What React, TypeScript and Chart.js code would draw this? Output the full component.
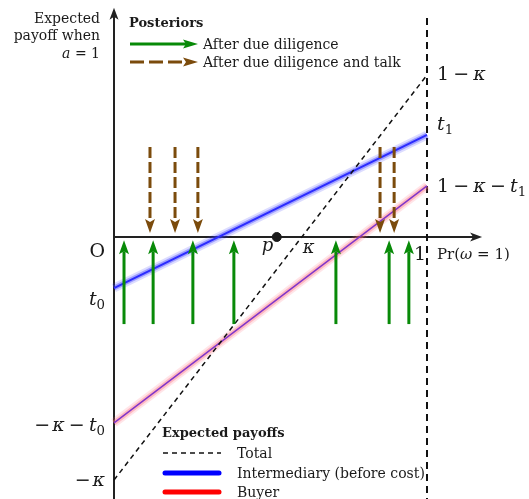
import { useEffect, useRef } from "react";
import { Chart, registerables } from "chart.js";

Chart.register(...registerables);

// Horizontal axis: belief Pr(ω = 1); vertical axis: expected payoff when a = 1.
const kappa = 0.6;
const prior = 0.52;
const beliefEnds = [0, 1];
const totalPayoff = [-kappa, 1 - kappa];
const intermediaryPayoff = [-0.126, 0.252]; // t0 at belief 0, t1 at belief 1
const buyerPayoff = [-0.459, 0.126]; // -κ - t0 at belief 0, 1 - κ - t1 at belief 1

// Posterior beliefs and the span of the arrows that mark them
const dueDiligencePosteriors = [0.032, 0.125, 0.252, 0.383, 0.709, 0.879, 0.942];
const talkPosteriors = [0.115, 0.195, 0.268, 0.85, 0.895];
const dueDiligenceArrowSpan = [-0.215, -0.008];
const talkArrowSpan = [0.222, 0.01];

// Axis extents
const xAxisEnd = 1.176;
const yAxisTop = 0.566;
const certaintyLineTop = 0.541;
const X_MIN = -0.36422;
const X_MAX = 1.32588;
const Y_MIN = -0.64691;
const Y_MAX = 0.58519;

const GREEN = "#088a08";
const BROWN = "#7b4b0c";
const INK = "#1a1a1a";
const SERIF = '"DejaVu Serif"';

type Run = { s: string; f?: "r" | "i" | "b"; sub?: boolean; gap?: number };

function drawRuns(
  ctx: CanvasRenderingContext2D,
  runs: Run[],
  x: number,
  y: number,
  size: number,
  align: "left" | "right" = "left"
) {
  const fontFor = (r: Run) => {
    const sz = r.sub ? size * 0.7 : size;
    const style = r.f === "i" ? "italic " : r.f === "b" ? "bold " : "";
    return `${style}${sz}px ${SERIF}`;
  };
  let w = 0;
  for (const r of runs) {
    ctx.font = fontFor(r);
    w += ctx.measureText(r.s).width + (r.gap ?? 0) * size;
  }
  let cx = align === "right" ? x - w : x;
  ctx.textAlign = "left";
  ctx.textBaseline = "alphabetic";
  ctx.fillStyle = INK;
  for (const r of runs) {
    ctx.font = fontFor(r);
    ctx.fillText(r.s, cx, r.sub ? y + size * 0.22 : y);
    cx += ctx.measureText(r.s).width + (r.gap ?? 0) * size;
  }
}

function arrowHead(
  ctx: CanvasRenderingContext2D,
  tx: number,
  ty: number,
  dx: number,
  dy: number,
  len: number,
  width: number,
  notch: number
) {
  const n = Math.hypot(dx, dy);
  const ux = dx / n;
  const uy = dy / n;
  const bx = tx - ux * len;
  const by = ty - uy * len;
  const px = -uy;
  const py = ux;
  ctx.beginPath();
  ctx.moveTo(tx, ty);
  ctx.lineTo(bx + (px * width) / 2, by + (py * width) / 2);
  ctx.lineTo(bx + ux * notch, by + uy * notch);
  ctx.lineTo(bx - (px * width) / 2, by - (py * width) / 2);
  ctx.closePath();
  ctx.fill();
}

function arrow(
  ctx: CanvasRenderingContext2D,
  x0: number,
  y0: number,
  x1: number,
  y1: number,
  color: string,
  lineWidth: number,
  dash: number[],
  headLen: number,
  headWidth: number
) {
  const n = Math.hypot(x1 - x0, y1 - y0);
  const ux = (x1 - x0) / n;
  const uy = (y1 - y0) / n;
  ctx.save();
  ctx.strokeStyle = color;
  ctx.fillStyle = color;
  ctx.lineWidth = lineWidth;
  ctx.setLineDash(dash);
  ctx.lineCap = "butt";
  ctx.beginPath();
  ctx.moveTo(x0, y0);
  ctx.lineTo(x1 - ux * (headLen - 3), y1 - uy * (headLen - 3));
  ctx.stroke();
  ctx.setLineDash([]);
  arrowHead(ctx, x1, y1, ux, uy, headLen, headWidth, 3);
  ctx.restore();
}

const scenePlugin = {
  id: "scene",
  beforeDatasetsDraw(chart: any) {
    const { ctx } = chart;
    const xs = chart.scales.x;
    const ys = chart.scales.y;
    const ox = xs.getPixelForValue(0);
    const oy = ys.getPixelForValue(0);
    ctx.save();
    ctx.strokeStyle = "#222";
    ctx.fillStyle = "#222";
    ctx.lineWidth = 2;
    // horizontal axis
    const xe = xs.getPixelForValue(xAxisEnd);
    ctx.beginPath();
    ctx.moveTo(ox, oy);
    ctx.lineTo(xe - 8, oy);
    ctx.stroke();
    arrowHead(ctx, xe, oy, 1, 0, 12, 9, 3);
    // vertical axis
    const yt = ys.getPixelForValue(yAxisTop);
    ctx.beginPath();
    ctx.moveTo(ox, ys.getPixelForValue(Y_MIN) + 2);
    ctx.lineTo(ox, yt + 8);
    ctx.stroke();
    arrowHead(ctx, ox, yt, 0, -1, 12, 9, 3);
    ctx.restore();
  },
  afterDatasetsDraw(chart: any) {
    const { ctx } = chart;
    const xs = chart.scales.x;
    const ys = chart.scales.y;
    const X = (v: number) => xs.getPixelForValue(v);
    const Y = (v: number) => ys.getPixelForValue(v);

    // posterior arrows
    for (const p of talkPosteriors) {
      arrow(ctx, X(p), Y(talkArrowSpan[0]), X(p), Y(talkArrowSpan[1]), BROWN, 3, [11, 4], 14, 10);
    }
    for (const p of dueDiligencePosteriors) {
      arrow(ctx, X(p), Y(dueDiligenceArrowSpan[0]), X(p), Y(dueDiligenceArrowSpan[1]), GREEN, 3, [], 14, 10);
    }

    // axis labels
    const ox = X(0);
    const oy = Y(0);
    const x1 = X(1);
    drawRuns(ctx, [{ s: "O" }], ox - 9, oy + 20, 19, "right");
    drawRuns(ctx, [{ s: "t", f: "i" }, { s: "0", sub: true }], ox - 9, Y(intermediaryPayoff[0]) + 17, 19, "right");
    drawRuns(
      ctx,
      [{ s: "−", gap: 0.1 }, { s: "κ", f: "i", gap: 0.22 }, { s: "−", gap: 0.22 }, { s: "t", f: "i" }, { s: "0", sub: true }],
      ox - 9,
      Y(buyerPayoff[0]) + 8,
      19,
      "right"
    );
    drawRuns(ctx, [{ s: "−", gap: 0.1 }, { s: "κ", f: "i" }], ox - 9, Y(totalPayoff[0]) + 6, 19, "right");

    drawRuns(ctx, [{ s: "1", gap: 0.22 }, { s: "−", gap: 0.22 }, { s: "κ", f: "i" }], x1 + 10, Y(totalPayoff[1]) + 5, 19);
    drawRuns(ctx, [{ s: "t", f: "i" }, { s: "1", sub: true }], x1 + 10, Y(intermediaryPayoff[1]) - 5, 19);
    drawRuns(
      ctx,
      [{ s: "1", gap: 0.22 }, { s: "−", gap: 0.22 }, { s: "κ", f: "i", gap: 0.22 }, { s: "−", gap: 0.22 }, { s: "t", f: "i" }, { s: "1", sub: true }],
      x1 + 10,
      Y(buyerPayoff[1]) + 6,
      19
    );

    drawRuns(ctx, [{ s: "p", f: "i" }], X(prior) - 15, oy + 14, 18);
    drawRuns(ctx, [{ s: "κ", f: "i" }], X(kappa) + 1, oy + 16, 18);
    drawRuns(ctx, [{ s: "1" }], x1 - 13, oy + 23, 19);
    drawRuns(ctx, [{ s: "Pr(" }, { s: "ω", f: "i" }, { s: " = 1)" }], x1 + 10, oy + 22, 15);

    // vertical axis title
    drawRuns(ctx, [{ s: "Expected" }], ox - 14, 23, 14, "right");
    drawRuns(ctx, [{ s: "payoff when" }], ox - 14, 40, 14, "right");
    drawRuns(ctx, [{ s: "a", f: "i" }, { s: " = 1" }], ox - 14, 58, 14, "right");

    // posteriors key
    drawRuns(ctx, [{ s: "Posteriors", f: "b" }], 129, 27, 13);
    arrow(ctx, 130, 44, 198, 44, GREEN, 3, [], 15, 9);
    drawRuns(ctx, [{ s: "After due diligence" }], 203, 49, 14);
    arrow(ctx, 130, 62, 198, 62, BROWN, 3, [14, 5], 15, 9);
    drawRuns(ctx, [{ s: "After due diligence and talk" }], 203, 67, 14);

    // payoff key
    drawRuns(ctx, [{ s: "Expected payoffs", f: "b" }], 162, 437, 13);
    ctx.save();
    ctx.lineWidth = 1.5;
    ctx.strokeStyle = "#111";
    ctx.setLineDash([5, 4]);
    ctx.beginPath();
    ctx.moveTo(163, 453);
    ctx.lineTo(221, 453);
    ctx.stroke();
    ctx.setLineDash([]);
    ctx.lineCap = "round";
    ctx.lineWidth = 5;
    ctx.strokeStyle = "#0000ff";
    ctx.beginPath();
    ctx.moveTo(165, 473);
    ctx.lineTo(219, 473);
    ctx.stroke();
    ctx.strokeStyle = "#ff0000";
    ctx.beginPath();
    ctx.moveTo(165, 492);
    ctx.lineTo(219, 492);
    ctx.stroke();
    ctx.restore();
    drawRuns(ctx, [{ s: "Total" }], 237, 458, 14);
    drawRuns(ctx, [{ s: "Intermediary (before cost)" }], 237, 478, 14);
    drawRuns(ctx, [{ s: "Buyer" }], 237, 497, 14);
  },
};

const segment = (ends: number[]) => beliefEnds.map((x, i) => ({ x, y: ends[i] }));

export default function App() {
  const ref = useRef<HTMLCanvasElement | null>(null);

  useEffect(() => {
    if (!ref.current) return;
    const lineBase = { type: "scatter" as const, showLine: true, pointRadius: 0, fill: false, tension: 0 };
    const chart = new Chart(ref.current, {
      type: "scatter",
      data: {
        datasets: [
          {
            ...lineBase,
            data: [
              { x: 1, y: certaintyLineTop },
              { x: 1, y: Y_MIN - 0.05 },
            ],
            borderColor: "#111",
            borderWidth: 2,
            borderDash: [7, 5],
            order: 9,
          },
          { ...lineBase, data: segment(buyerPayoff), borderColor: "rgba(255,110,130,0.18)", borderWidth: 9, order: 8 },
          { ...lineBase, data: segment(buyerPayoff), borderColor: "rgba(255,110,130,0.38)", borderWidth: 5, order: 7 },
          { ...lineBase, data: segment(buyerPayoff), borderColor: "#8035c8", borderWidth: 1.5, order: 6 },
          { ...lineBase, data: segment(intermediaryPayoff), borderColor: "rgba(60,60,255,0.18)", borderWidth: 9, order: 5 },
          { ...lineBase, data: segment(intermediaryPayoff), borderColor: "rgba(60,60,255,0.38)", borderWidth: 5, order: 4 },
          { ...lineBase, data: segment(intermediaryPayoff), borderColor: "#2b2bff", borderWidth: 2, order: 3 },
          { ...lineBase, data: segment(totalPayoff), borderColor: "#111", borderWidth: 1.5, borderDash: [5, 4], order: 2 },
          {
            type: "scatter",
            data: [{ x: prior, y: 0 }],
            pointRadius: 4.5,
            pointBackgroundColor: "#1a1a1a",
            pointBorderColor: "#1a1a1a",
            showLine: false,
            order: 1,
          },
        ],
      },
      options: {
        animation: false,
        responsive: false,
        devicePixelRatio: 1,
        layout: { padding: 0, autoPadding: false },
        plugins: { legend: { display: false }, tooltip: { enabled: false } },
        events: [],
        scales: {
          x: { type: "linear", display: false, min: X_MIN, max: X_MAX },
          y: { type: "linear", display: false, min: Y_MIN, max: Y_MAX },
        },
      },
      plugins: [scenePlugin],
    });
    return () => chart.destroy();
  }, []);

  return (
    <div style={{ position: "absolute", left: 0, top: 0, width: 529, height: 499, background: "#fff" }}>
      <canvas ref={ref} width={529} height={499} style={{ display: "block" }} />
    </div>
  );
}
